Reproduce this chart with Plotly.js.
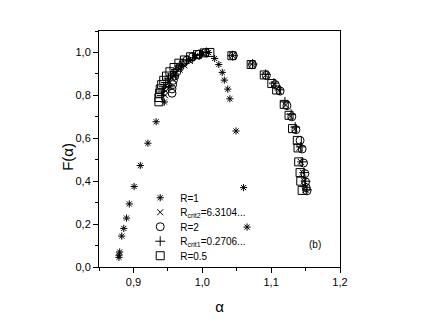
<!DOCTYPE html>
<html>
<head>
<meta charset="utf-8">
<script src="https://cdn.plot.ly/plotly-3.0.1.min.js"></script>
<style>
  html, body { margin: 0; padding: 0; background: #fff; }
  #myDiv { width: 436px; height: 327px; }
</style>
</head>
<body>
<div id="myDiv"></div>
<script>
// значения (α, F(α))
let alphaR1 = [0.879, 0.879, 0.880, 0.883, 0.886, 0.890, 0.894, 0.901, 0.910, 0.921, 0.933, 0.945,
               0.953, 0.961, 0.970, 0.980, 0.990, 1.000, 1.009, 1.018, 1.024, 1.029, 1.032, 1.037,
               1.040, 1.049, 1.060, 1.065];
let fR1 = [0.045, 0.055, 0.070, 0.144, 0.180, 0.228, 0.294, 0.375, 0.473, 0.577, 0.677, 0.769,
           0.840, 0.890, 0.935, 0.965, 0.985, 0.998, 1.000, 0.972, 0.944, 0.907, 0.871, 0.829,
           0.784, 0.634, 0.370, 0.186];

let alphaC2 = [0.946, 0.947, 0.949, 0.952, 0.956, 0.961, 0.967, 0.974, 0.982, 0.991, 1.001,
               1.044, 1.072, 1.092, 1.104, 1.111, 1.121, 1.128, 1.134, 1.141, 1.143, 1.146, 1.148, 1.150];
let fC2 = [0.80, 0.82, 0.84, 0.86, 0.88, 0.90, 0.92, 0.94, 0.96, 0.98, 0.995,
           0.986, 0.945, 0.894, 0.852, 0.822, 0.755, 0.703, 0.643, 0.555, 0.49, 0.44, 0.40, 0.36];

let alphaR2 = [0.956, 0.956, 0.957, 0.958, 0.960, 0.963, 0.967, 0.972, 0.978, 0.986, 0.995, 1.005,
               1.045, 1.073, 1.093, 1.106, 1.113, 1.123, 1.130, 1.136, 1.142, 1.145, 1.147, 1.149,
               1.150, 1.151, 1.152];
let fR2 = [0.81, 0.83, 0.85, 0.87, 0.89, 0.91, 0.93, 0.95, 0.965, 0.98, 0.992, 1.0,
           0.985, 0.943, 0.893, 0.85, 0.82, 0.752, 0.70, 0.64, 0.59, 0.55, 0.485, 0.435,
           0.397, 0.37, 0.355];

let alphaC1 = [0.941, 0.942, 0.944, 0.947, 0.951, 0.956, 0.962, 0.969, 0.977, 0.986, 0.996, 1.006,
               1.044, 1.073, 1.092, 1.104, 1.112, 1.120, 1.129, 1.135, 1.143, 1.145, 1.148, 1.150, 1.152];
let fC1 = [0.80, 0.82, 0.84, 0.86, 0.88, 0.90, 0.92, 0.94, 0.96, 0.975, 0.99, 1.0,
           0.985, 0.946, 0.898, 0.857, 0.826, 0.77, 0.712, 0.652, 0.56, 0.49, 0.44, 0.40, 0.36];

let alphaR05 = [0.937, 0.937, 0.938, 0.939, 0.941, 0.944, 0.948, 0.953, 0.959, 0.966, 0.974, 0.983,
                0.993, 1.003, 1.011, 1.043, 1.071, 1.090, 1.101, 1.108, 1.119, 1.126, 1.131, 1.138,
                1.139, 1.140, 1.142, 1.143, 1.145];
let fR05 = [0.77, 0.79, 0.81, 0.83, 0.85, 0.87, 0.89, 0.91, 0.93, 0.95, 0.965, 0.98,
            0.99, 0.998, 1.0, 0.985, 0.944, 0.895, 0.855, 0.825, 0.758, 0.707, 0.645, 0.59,
            0.555, 0.49, 0.44, 0.40, 0.357];

let names = ['R=1', 'R<sub>crit2</sub>=6.3104...', 'R=2', 'R<sub>crit1</sub>=0.2706...', 'R=0.5'];

function series(x, y, name, symbol, size) {
    return {
        mode: 'markers',
        type: 'scatter',
        x: x,
        y: y,
        name: name,
        marker: { symbol: symbol, size: size, color: '#000', line: { color: '#000', width: 1 } }
    };
}

let data = [
    series(alphaR1, fR1, names[0], 'asterisk-open', 6),
    series(alphaC2, fC2, names[1], 'x-thin-open', 6),
    series(alphaR2, fR2, names[2], 'circle-open', 8),
    series(alphaC1, fC1, names[3], 'cross-thin-open', 7),
    series(alphaR05, fR05, names[4], 'square-open', 8)
];

let fnt = { family: 'Arial, "Liberation Sans", sans-serif', color: '#000' };

let layout = {
    width: 436,
    height: 327,
    margin: { l: 99, r: 96, t: 31, b: 60 },
    paper_bgcolor: '#fff',
    plot_bgcolor: '#fff',
    separators: ', ',
    font: Object.assign({ size: 11 }, fnt),
    showlegend: true,
    legend: {
        x: 0.171, y: 0.355, xanchor: 'left', yanchor: 'top',
        bgcolor: 'rgba(0,0,0,0)',
        font: Object.assign({ size: 10 }, fnt),
        itemwidth: 30
    },
    xaxis: {
        range: [0.85, 1.2],
        dtick: 0.1, tickformat: '.1f',
        ticks: 'outside', ticklen: 5, tickwidth: 1, tickcolor: '#000',
        minor: { dtick: 0.05, ticks: 'outside', ticklen: 3, tickcolor: '#000' },
        showline: true, linecolor: '#000', linewidth: 1, mirror: true,
        showgrid: false, zeroline: false,
        tickfont: Object.assign({ size: 11 }, fnt),
        title: { text: 'α', font: Object.assign({ size: 15 }, fnt), standoff: 14 }
    },
    yaxis: {
        range: [0, 1.1],
        dtick: 0.2, tickformat: '.1f',
        ticks: 'outside', ticklen: 5, tickwidth: 1, tickcolor: '#000',
        minor: { dtick: 0.1, ticks: 'outside', ticklen: 3, tickcolor: '#000' },
        showline: true, linecolor: '#000', linewidth: 1, mirror: true,
        showgrid: false, zeroline: false,
        tickfont: Object.assign({ size: 11 }, fnt)
    },
    annotations: [{
        // подпись оси y ставим вручную, plotly уводит её слишком далеко влево
        x: -0.174, y: 0.465, xref: 'paper', yref: 'paper',
        text: 'F(α)', textangle: -90, showarrow: false,
        font: Object.assign({ size: 15 }, fnt)
    }, {
        x: 1.163, y: 0.104, xref: 'x', yref: 'y',
        text: '(b)', showarrow: false,
        font: Object.assign({ size: 10 }, fnt)
    }]
};

Plotly.newPlot('myDiv', data, layout, { staticPlot: true }).then(function () {
    // в оригинале легенда плотнее, чем позволяет plotly (19px на строку)
    let items = document.querySelectorAll('#myDiv .legend .traces');
    let y0 = null;
    items.forEach(function (g, i) {
        let m = /translate\(([-\d.]+),\s*([-\d.]+)\)/.exec(g.getAttribute('transform'));
        if (!m) return;
        if (y0 === null) y0 = parseFloat(m[2]);
        g.setAttribute('transform', 'translate(' + m[1] + ',' + (y0 + i * 14.5) + ')');
    });
});
</script>
</body>
</html>
